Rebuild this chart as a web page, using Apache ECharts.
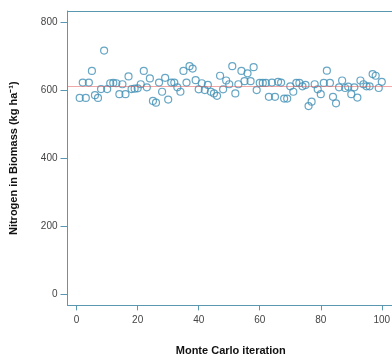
<!DOCTYPE html>
<html>
<head>
<meta charset="utf-8">
<script src="https://cdn.jsdelivr.net/npm/echarts@6/dist/echarts.min.js"></script>
<style>
  html, body { margin: 0; padding: 0; background: #ffffff; }
  #chart { width: 392px; height: 356px; }
</style>
</head>
<body>
<div id="chart"></div>
<script>
// Monte Carlo iteration number, 1..100
const iterations = [
  1, 2, 3, 4, 5, 6, 7, 8, 9, 10,
  11, 12, 13, 14, 15, 16, 17, 18, 19, 20,
  21, 22, 23, 24, 25, 26, 27, 28, 29, 30,
  31, 32, 33, 34, 35, 36, 37, 38, 39, 40,
  41, 42, 43, 44, 45, 46, 47, 48, 49, 50,
  51, 52, 53, 54, 55, 56, 57, 58, 59, 60,
  61, 62, 63, 64, 65, 66, 67, 68, 69, 70,
  71, 72, 73, 74, 75, 76, 77, 78, 79, 80,
  81, 82, 83, 84, 85, 86, 87, 88, 89, 90,
  91, 92, 93, 94, 95, 96, 97, 98, 99, 100,
]

// nitrogen in biomass (kg ha-1)
const nitrogen = [
  577, 622, 577, 622, 656, 585, 577, 603, 716, 603,
  620, 621, 620, 588, 617, 588, 640, 603, 604, 605,
  617, 656, 608, 634, 568, 563, 622, 595, 636, 572,
  622, 622, 608, 595, 656, 622, 670, 663, 629, 602,
  620, 600, 615, 595, 590, 583, 642, 602, 628, 617,
  670, 590, 617, 656, 626, 649, 626, 667, 600, 621,
  621, 621, 580, 622, 580, 624, 622, 575, 575, 611,
  595, 621, 621, 611, 615, 553, 566, 617, 602, 588,
  621, 657, 621, 580, 561, 608, 628, 606, 610, 588,
  608, 578, 628, 617, 611, 611, 647, 642, 606, 624,
]

const meanNitrogen = 612

const xTicks = [0, 20, 40, 60, 80, 100]
const yTicks = [0, 200, 400, 600, 800]

const colors = {
  point: '#4190b5',
  axis: '#5a97b0',
  text: '#444444',
  title: '#111111',
  mean: 'rgba(225, 95, 95, 0.55)',
}

const font = 'Liberation Sans'

const chart = echarts.init(document.getElementById('chart'), null, { renderer: 'canvas' })

chart.setOption({
  animation: false,
  grid: { left: 67.5, right: -2, top: 11, bottom: 50.6, outerBoundsMode: 'none', containLabel: false },
  xAxis: [
    {
      type: 'value',
      min: -3,
      max: 104,
      name: 'Monte Carlo iteration',
      nameLocation: 'middle',
      nameGap: 40,
      nameTextStyle: { color: colors.title, fontSize: 11, fontWeight: 'bold', fontFamily: font },
      axisLine: { show: true, onZero: false, lineStyle: { color: colors.axis } },
      axisTick: { show: true, length: 5, customValues: xTicks, lineStyle: { color: colors.axis } },
      axisLabel: { customValues: xTicks, margin: 10, color: colors.text, fontSize: 10, fontFamily: font },
      splitLine: { show: false },
    },
    {
      // top edge of the plot box only
      type: 'value',
      position: 'top',
      min: -3,
      max: 104,
      axisLine: { show: true, onZero: false, lineStyle: { color: colors.axis } },
      axisTick: { show: false },
      axisLabel: { show: false },
      splitLine: { show: false },
    },
  ],
  yAxis: {
    type: 'value',
    min: -32,
    max: 832,
    name: 'Nitrogen in Biomass (kg ha\u207B\u00B9)',
    nameLocation: 'middle',
    nameGap: 48,
    nameTextStyle: { color: colors.title, fontSize: 11, fontWeight: 'bold', fontFamily: font },
    axisLine: { show: true, onZero: false, lineStyle: { color: colors.axis } },
    axisTick: { show: true, length: 7, customValues: yTicks, lineStyle: { color: colors.axis } },
    axisLabel: { customValues: yTicks, margin: 10, color: colors.text, fontSize: 10, fontFamily: font },
    splitLine: { show: false },
  },
  series: [
    {
      type: 'scatter',
      symbol: 'circle',
      symbolSize: 7,
      z: 3,
      data: iterations.map((it, i) => [it, nitrogen[i]]),
      itemStyle: { color: 'rgba(255,255,255,0)', borderColor: colors.point, borderWidth: 1.2 },
      markLine: {
        silent: true,
        symbol: 'none',
        z: 4,
        label: { show: false },
        lineStyle: { color: colors.mean, width: 1, type: 'solid' },
        data: [{ yAxis: meanNitrogen }],
      },
    },
  ],
})
</script>
</body>
</html>
